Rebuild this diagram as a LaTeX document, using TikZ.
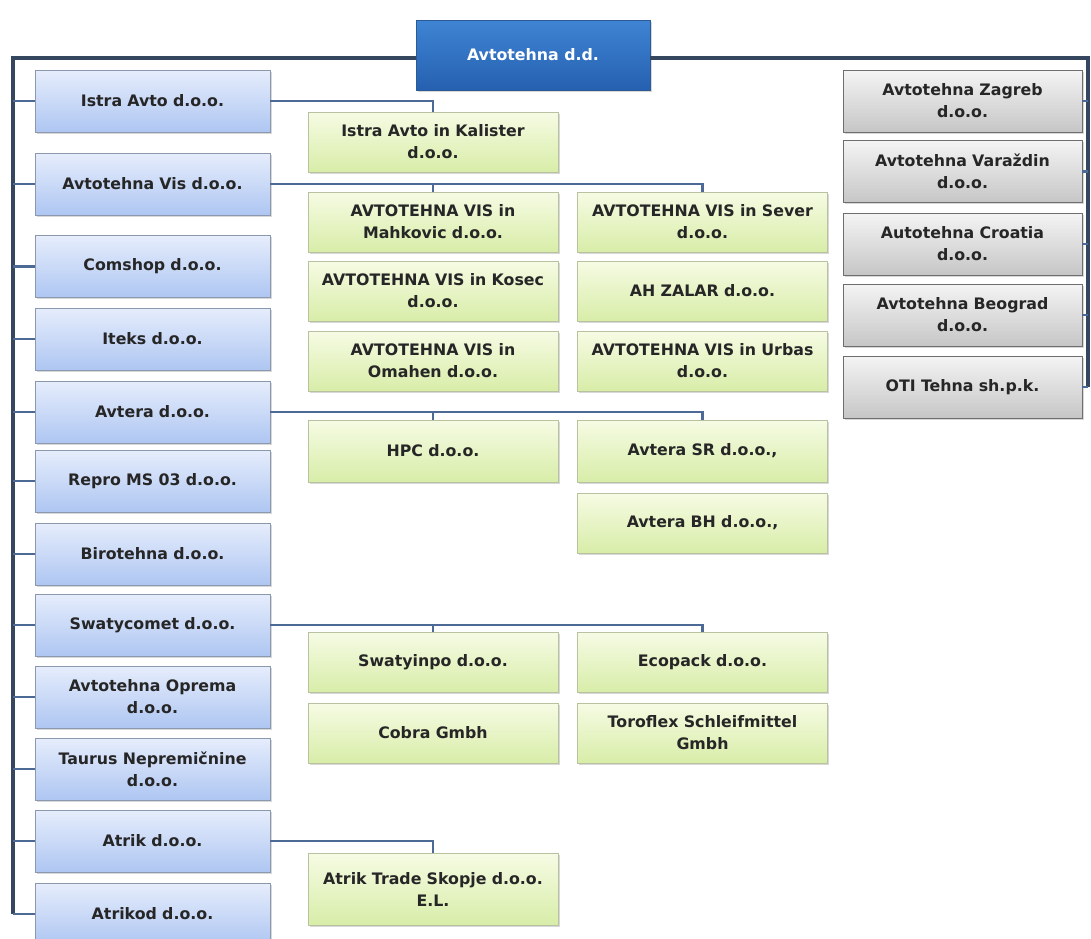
\documentclass[tikz,border=0pt]{standalone}
\usepackage{fontspec}
\setmainfont{DejaVu Sans}
\usetikzlibrary{shadows}
\definecolor{txt}{HTML}{262626}
\definecolor{trunkc}{HTML}{34475F}
\definecolor{branchc}{HTML}{4D6A96}
\definecolor{bluetop}{HTML}{E6EDFC}
\definecolor{bluebot}{HTML}{AEC6F2}
\definecolor{blueline}{HTML}{8C98AE}
\definecolor{toptop}{HTML}{3F84D4}
\definecolor{topbot}{HTML}{2660B0}
\definecolor{topline}{HTML}{2B5A95}
\definecolor{greentop}{HTML}{F6FBE4}
\definecolor{greenbot}{HTML}{D8EDA8}
\definecolor{greenline}{HTML}{B8C2A0}
\definecolor{greytop}{HTML}{F4F4F4}
\definecolor{greybot}{HTML}{C6C6C6}
\definecolor{greyline}{HTML}{6E6E6E}
\tikzset{
  box/.style={rectangle, draw, line width=0.9pt, align=center, text=txt,
    font=\fontsize{15.8}{22}\selectfont\bfseries, inner sep=1pt,
    drop shadow={shadow xshift=1.5pt, shadow yshift=-1.5pt, opacity=0.3}},
  bluebox/.style={box, draw=blueline, top color=bluetop, bottom color=bluebot,
    minimum width=235pt, minimum height=62pt, text width=233pt},
  topbox/.style={box, draw=topline, top color=toptop, bottom color=topbot, text=white,
    minimum width=234pt, minimum height=70pt},
  greenbox/.style={box, draw=greenline, top color=greentop, bottom color=greenbot,
    minimum width=250pt, minimum height=60pt, text width=248pt},
  greybox/.style={box, draw=greyline, top color=greytop, bottom color=greybot,
    minimum width=239pt, minimum height=62pt, text width=237pt},
  trunk/.style={draw=trunkc, line width=4pt},
  branch/.style={draw=branchc, line width=2.6pt}
}
\begin{document}
\begin{tikzpicture}[x=1pt,y=-1pt]
\useasboundingbox (0,0) rectangle (1091,938);
\fill[white] (0,0) rectangle (1091,938);
% coordinates for trunk ends
\coordinate (lbot) at (13,914);
\coordinate (rbot) at (1088,387);

\node[topbox] (top) at (533,55) {Avtotehna d.d.};

% blue (left column)
\node[bluebox] (b1) at (152.5,101) {Istra Avto d.o.o.};
\node[bluebox] (b2) at (152.5,184) {Avtotehna Vis d.o.o.};
\node[bluebox] (b3) at (152.5,266.5) {Comshop d.o.o.};
\node[bluebox] (b4) at (152.5,339) {Iteks d.o.o.};
\node[bluebox] (b5) at (152.5,412) {Avtera d.o.o.};
\node[bluebox] (b6) at (152.5,481) {Repro MS 03 d.o.o.};
\node[bluebox] (b7) at (152.5,554) {Birotehna d.o.o.};
\node[bluebox] (b8) at (152.5,625) {Swatycomet d.o.o.};
\node[bluebox] (b9) at (152.5,697) {Avtotehna Oprema\\d.o.o.};
\node[bluebox] (b10) at (152.5,769) {Taurus Nepremičnine\\d.o.o.};
\node[bluebox] (b11) at (152.5,841) {Atrik d.o.o.};
\node[bluebox] (b12) at (152.5,914) {Atrikod d.o.o.};

% grey (right column)
\node[greybox] (r1) at (962.5,101) {Avtotehna Zagreb\\d.o.o.};
\node[greybox] (r2) at (962.5,171.5) {Avtotehna Varaždin\\d.o.o.};
\node[greybox] (r3) at (962.5,244) {Autotehna Croatia\\d.o.o.};
\node[greybox] (r4) at (962.5,315) {Avtotehna Beograd\\d.o.o.};
\node[greybox] (r5) at (962.5,387) {OTI Tehna sh.p.k.};

% green
\node[greenbox] (gkal) at (433,142) {Istra Avto in Kalister\\d.o.o.};
\node[greenbox] (gmah) at (433,222) {AVTOTEHNA VIS in\\Mahkovic d.o.o.};
\node[greenbox] (gsev) at (702.5,222) {AVTOTEHNA VIS in Sever\\d.o.o.};
\node[greenbox] (gkos) at (433,291) {AVTOTEHNA VIS in Kosec\\d.o.o.};
\node[greenbox] (gzal) at (702.5,291) {AH ZALAR d.o.o.};
\node[greenbox] (goma) at (433,361) {AVTOTEHNA VIS in\\Omahen d.o.o.};
\node[greenbox] (gurb) at (702.5,361) {AVTOTEHNA VIS in Urbas\\d.o.o.};
\node[greenbox, minimum height=62pt] (ghpc) at (433,451) {HPC d.o.o.};
\node[greenbox, minimum height=62pt] (gsr) at (702.5,451) {Avtera SR d.o.o.,};
\node[greenbox] (gbh) at (702.5,523) {Avtera BH d.o.o.,};
\node[greenbox] (gswi) at (433,662.5) {Swatyinpo d.o.o.};
\node[greenbox] (geco) at (702.5,662.5) {Ecopack d.o.o.};
\node[greenbox] (gcob) at (433,733) {Cobra Gmbh};
\node[greenbox] (gtor) at (702.5,733) {Toroflex Schleifmittel\\Gmbh};
\node[greenbox, minimum height=72pt] (gatr) at (433,889) {Atrik Trade Skopje d.o.o.\\E.L.};

% trunks
\draw[trunk] ([yshift=-2.5pt]top.west) -| (lbot);
\draw[trunk] ([yshift=-2.5pt]top.east) -| (rbot);
\foreach \n in {b1,b2,b3,b4,b5,b6,b7,b8,b9,b10,b11,b12}
  \draw[branch] (\n.west -| lbot) -- (\n.west);
\foreach \n in {r1,r2,r3,r4,r5}
  \draw[branch] (\n.east) -- (\n.east -| rbot);

% sub-branches
\draw[branch] (b1.east) -| (gkal.north);
\draw[branch] (b2.east) -| (gmah.north);
\draw[branch] (b2.east) -| (gsev.north);
\draw[branch] (b5.east) -| (ghpc.north);
\draw[branch] (b5.east) -| (gsr.north);
\draw[branch] (b8.east) -| (gswi.north);
\draw[branch] (b8.east) -| (geco.north);
\draw[branch] (b11.east) -| (gatr.north);
\end{tikzpicture}
\end{document}
